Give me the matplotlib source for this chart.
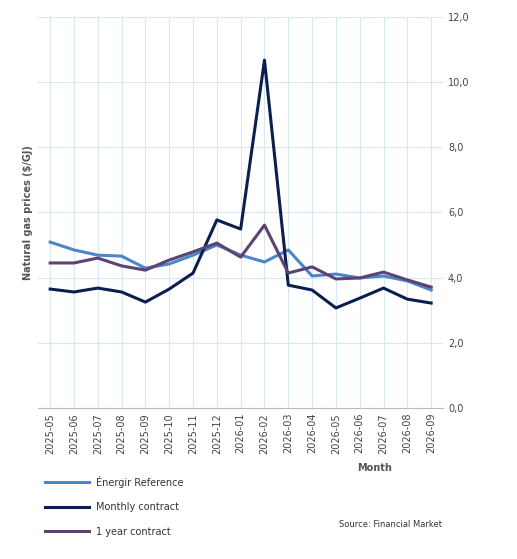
import matplotlib
matplotlib.use('agg')
import matplotlib.pyplot as plt
from matplotlib.lines import Line2D

months = ['2025-05', '2025-06', '2025-07', '2025-08', '2025-09', '2025-10', '2025-11', '2025-12',
          '2026-01', '2026-02', '2026-03', '2026-04', '2026-05', '2026-06', '2026-07', '2026-08', '2026-09']
energir = [5.09, 4.85, 4.69, 4.66, 4.29, 4.42, 4.69, 5.00, 4.69, 4.48, 4.85, 4.05, 4.11, 3.99, 4.05, 3.90, 3.62]
monthly = [3.65, 3.56, 3.68, 3.56, 3.25, 3.65, 4.14, 5.77, 5.49, 10.67, 3.77, 3.62, 3.07, 3.37, 3.68, 3.34, 3.22]
one_year = [4.45, 4.45, 4.60, 4.36, 4.23, 4.54, 4.79, 5.06, 4.63, 5.61, 4.14, 4.33, 3.96, 3.99, 4.17, 3.93, 3.71]

fig = plt.figure(figsize=(5.17, 5.59), dpi=100)
ax = fig.add_axes([0.074, 0.27, 0.783, 0.70])

x = range(len(months))
ax.plot(x, energir, color='#4a86c8', lw=2.2)
ax.plot(x, monthly, color='#0b1f4f', lw=2.2)
ax.plot(x, one_year, color='#5b4373', lw=2.2)

ax.set_xlim(-0.5, len(months) - 0.5)
ax.set_ylim(0, 12)
ax.set_yticks(range(0, 13, 2))
ax.set_yticklabels([f'{v},0' for v in range(0, 13, 2)])
ax.yaxis.tick_right()
ax.set_xticks(list(x))
ax.set_xticklabels(months, rotation=90, fontsize=7, color='#444444')
ax.tick_params(axis='y', labelsize=7, colors='#444444', length=0)
ax.tick_params(axis='x', length=0)
ax.grid(True, color='#d6e8f2', lw=0.8)
for s in ax.spines.values():
    s.set_visible(False)
ax.spines['bottom'].set_visible(True)
ax.spines['bottom'].set_color('#bbbbbb')

ax.set_ylabel('Natural gas prices ($/GJ)', fontsize=7, fontweight='bold', color='#555555')
fig.text(0.69, 0.158, 'Month', fontsize=7, fontweight='bold', color='#555555')

handles = [Line2D([], [], color='#4a86c8', lw=2.2),
           Line2D([], [], color='#0b1f4f', lw=2.2),
           Line2D([], [], color='#5b4373', lw=2.2)]
fig.legend(handles, ['Énergir Reference', 'Monthly contract', '1 year contract'],
           loc='upper left', bbox_to_anchor=(0.07, 0.165), frameon=False,
           fontsize=7, labelspacing=1.5, handlelength=4.5, labelcolor='#333333')
fig.text(0.655, 0.058, 'Source: Financial Market', fontsize=6, color='#333333')

fig.savefig('out.png', dpi=100)
